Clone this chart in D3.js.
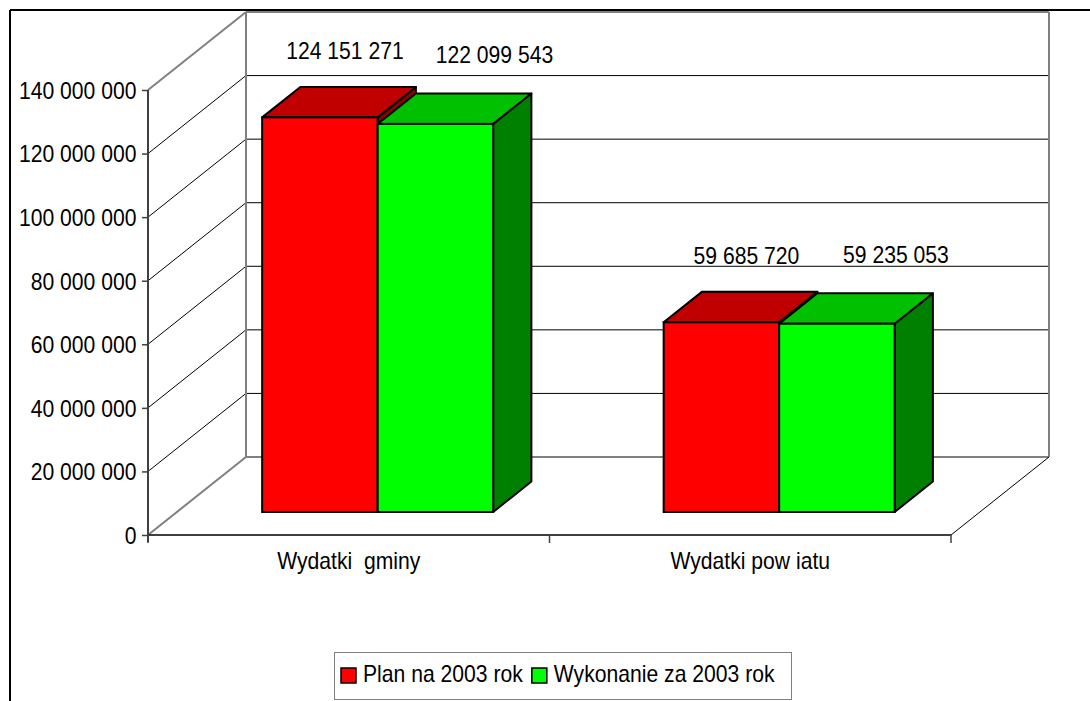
<!DOCTYPE html>
<html>
<head>
<meta charset="utf-8">
<script src="https://cdn.jsdelivr.net/npm/d3@7"></script>
<style>
  html, body { margin: 0; padding: 0; background: #fff; }
  svg { display: block; }
  text { font-family: "Liberation Sans", Arial, sans-serif; fill: #000; }
</style>
</head>
<body>
<svg id="chart" width="1090" height="701"></svg>
<script>
const categories = ["Wydatki  gminy", "Wydatki pow iatu"];
const seriesNames = ["Plan na 2003 rok", "Wykonanie za 2003 rok"];
const planValues = [124151271, 59685720];
const execValues = [122099543, 59235053];
const yTicks = [0, 20000000, 40000000, 60000000, 80000000, 100000000, 120000000, 140000000];

const seriesValues = [planValues, execValues];
const frontColors = ["#FF0000", "#00FF00"];
const topColors = ["#C00000", "#00C000"];
const sideColors = ["#900000", "#008000"];

const svg = d3.select("#chart");
const FS = 23;
const SX = 0.92; // horizontal squeeze of the original font

// geometry
const plotLeft = 148, plotRight = 951;
const depthX = 98, depthY = -78;
const barF0 = 0.295, barFD = 0.39;

const y = d3.scaleLinear().domain([0, 140000000]).range([535, 90]);
const x0 = d3.scaleBand().domain(categories).range([plotLeft, plotRight]).paddingInner(0).paddingOuter(0);
const x1 = d3.scaleBand().domain(d3.range(seriesNames.length)).range([0, x0.bandwidth()]).paddingInner(0).paddingOuter(0.738);

const fmt = v => d3.format(",")(v).replace(/,/g, " ");

function sText(parent, x, yy, str, anchor) {
  const t = parent.append("text")
    .attr("transform", `translate(${x},${yy}) scale(${SX},1)`)
    .attr("text-anchor", anchor || "start")
    .attr("font-size", FS)
    .attr("xml:space", "preserve")
    .style("white-space", "pre")
    .text(str);
  return t;
}

// outer frame
svg.append("line").attr("x1", 10).attr("y1", 10).attr("x2", 1090).attr("y2", 10).attr("stroke", "#000").attr("stroke-width", 2);
svg.append("line").attr("x1", 10).attr("y1", 10).attr("x2", 10).attr("y2", 701).attr("stroke", "#000").attr("stroke-width", 2);

const g = svg.append("g");
const bx0 = plotLeft + depthX, bx1 = plotRight + depthX;

// back wall gridlines & left wall diagonals
yTicks.forEach((t, i) => {
  const yy = y(t);
  const edge = (i === 0 || i === yTicks.length - 1);
  g.append("line").attr("x1", plotLeft).attr("y1", yy).attr("x2", bx0).attr("y2", yy + depthY)
    .attr("stroke", edge ? "#808080" : "#000").attr("stroke-width", edge ? 2 : 1);
  g.append("line").attr("x1", bx0).attr("y1", yy + depthY).attr("x2", bx1).attr("y2", yy + depthY)
    .attr("stroke", edge ? "#808080" : "#000").attr("stroke-width", edge ? 2 : 1);
});
// back wall verticals
g.append("line").attr("x1", bx0).attr("y1", y(140000000) + depthY).attr("x2", bx0).attr("y2", y(0) + depthY).attr("stroke", "#808080").attr("stroke-width", 2);
g.append("line").attr("x1", bx1).attr("y1", y(140000000) + depthY).attr("x2", bx1).attr("y2", y(0) + depthY).attr("stroke", "#808080").attr("stroke-width", 2);
// floor right diagonal and front edge
g.append("line").attr("x1", plotRight).attr("y1", y(0)).attr("x2", bx1).attr("y2", y(0) + depthY).attr("stroke", "#000").attr("stroke-width", 1);
g.append("line").attr("x1", plotLeft).attr("y1", y(0)).attr("x2", plotRight).attr("y2", y(0)).attr("stroke", "#000").attr("stroke-width", 1.5);

// y axis
const yAxis = d3.axisLeft(y).tickValues(yTicks).tickFormat(fmt).tickSize(6).tickPadding(5);
const ya = svg.append("g").attr("transform", `translate(${plotLeft},0)`).call(yAxis);
ya.select(".domain").attr("stroke", "#404040").attr("stroke-width", 2).attr("d", `M0,${y(140000000)}V${y(0) + 7}`);
ya.selectAll(".tick line").attr("stroke", "#404040").attr("stroke-width", 1.5);
ya.selectAll(".tick text").attr("font-size", FS).attr("font-family", '"Liberation Sans", Arial, sans-serif')
  .attr("fill", "#000").attr("dy", "0.36em").attr("x", -11.5 / SX).attr("transform", `scale(${SX},1)`);

// x axis (category labels)
const xa = svg.append("g");
categories.forEach(c => {
  sText(xa, x0(c) + x0.bandwidth() / 2, 569, c, "middle");
});
// category boundary ticks
const boundaries = [plotLeft].concat(categories.map(c => x0(c) + x0.bandwidth()));
svg.append("g").selectAll("line").data(boundaries).join("line")
  .attr("x1", d => d).attr("x2", d => d).attr("y1", y(0)).attr("y2", y(0) + 8)
  .attr("stroke", "#404040").attr("stroke-width", 1.5);

// bars
const offX = depthX * barF0, offY = depthY * barF0;
const dX = depthX * barFD, dY = depthY * barFD;
const bars = svg.append("g");
categories.forEach((c, ci) => {
  seriesValues.forEach((vals, si) => {
    const v = vals[ci];
    const xl = x0(c) + x1(si) + offX;
    const xr = xl + x1.bandwidth();
    const yt = y(v) + offY;
    const yb = y(0) + offY;
    bars.append("path").attr("d", `M${xr},${yt}L${xr + dX},${yt + dY}L${xr + dX},${yb + dY}L${xr},${yb}Z`)
      .attr("fill", sideColors[si]).attr("stroke", "#000").attr("stroke-width", 2).attr("stroke-linejoin", "round");
    bars.append("path").attr("d", `M${xl},${yt}L${xl + dX},${yt + dY}L${xr + dX},${yt + dY}L${xr},${yt}Z`)
      .attr("fill", topColors[si]).attr("stroke", "#000").attr("stroke-width", 2).attr("stroke-linejoin", "round");
    bars.append("rect").attr("x", xl).attr("y", yt).attr("width", xr - xl).attr("height", yb - yt)
      .attr("fill", frontColors[si]).attr("stroke", "#000").attr("stroke-width", 2);
  });
});

// value labels
const labelDx = [25, 59], labelDy = [-58, -61];
const lbl = svg.append("g");
categories.forEach((c, ci) => {
  seriesValues.forEach((vals, si) => {
    const v = vals[ci];
    const xc = x0(c) + x1(si) + offX + x1.bandwidth() / 2;
    const yt = y(v) + offY;
    sText(lbl, xc + labelDx[si], yt + labelDy[si], fmt(v), "middle");
  });
});

// legend
const lg = svg.append("g");
lg.append("rect").attr("x", 334.5).attr("y", 652.5).attr("width", 457).attr("height", 47)
  .attr("fill", "#fff").attr("stroke", "#808080").attr("stroke-width", 1);
let lx = 341;
seriesNames.forEach((name, i) => {
  lg.append("rect").attr("x", lx).attr("y", 668).attr("width", 15).attr("height", 15)
    .attr("fill", frontColors[i]).attr("stroke", "#000").attr("stroke-width", 1.5);
  const t = sText(lg, lx + 22, 682, name, "start");
  lx = lx + 22 + t.node().getComputedTextLength() * SX + 9;
});
</script>
</body>
</html>
